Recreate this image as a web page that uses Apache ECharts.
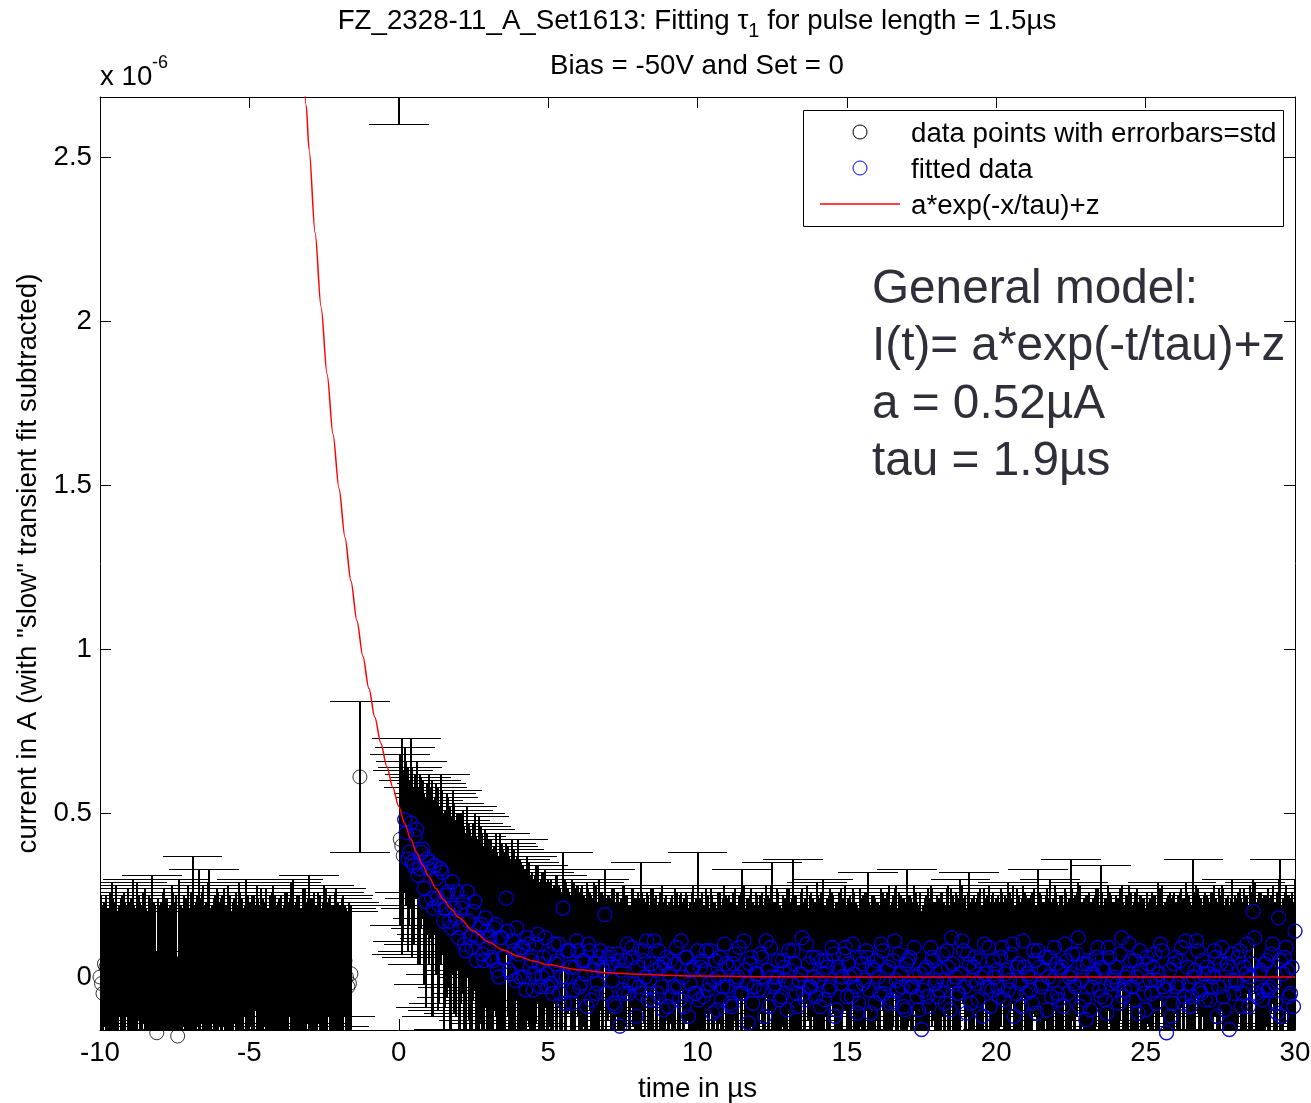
<!DOCTYPE html>
<html><head><meta charset="utf-8">
<script src="https://cdn.jsdelivr.net/npm/echarts@6/dist/echarts.min.js"></script>
<style>html,body{margin:0;padding:0;background:#fff;overflow:hidden}#c{width:1311px;height:1103px}</style>
</head><body><div id="c"></div>
<script>
// Sampling of the measurement: every 0.05 µs from -10 µs to 30 µs.
// "current"/"stdDev" hold the samples at t = -10.0, -9.9, ... 30.0 (rows = x.0 ... x.9 µs),
// "currentHalf"/"stdDevHalf" hold the samples in between, t = -9.95, -9.85, ... 29.95.
const sampleStart = -10, sampleStep = 0.1, sampleCount = 401;
const halfStart = -9.95, halfCount = 400;

// measured current in µA (axis is x 10^-6 A)
const current = [
 0,-0.05,0.03,-0.02,0.04,0.01,-0.03,0.02,-0.01,0.05,
 -0.04,0.02,0,0.06,-0.03,0.01,-0.06,0.03,-0.02,-0.17,
 0.02,-0.01,0.04,-0.05,0,0.03,-0.18,-0.02,0.05,0.01,
 -0.03,0.02,-0.04,0,0.06,-0.01,0.03,-0.05,0.02,-0.02,
 0.04,0,-0.03,0.01,-0.06,0.05,-0.01,0.02,-0.04,0.03,
 0,-0.02,0.06,-0.03,0.01,0.04,-0.05,0.02,-0.01,0.03,
 -0.04,0.01,0.05,-0.02,0,-0.06,0.03,-0.01,0.04,-0.03,
 0.02,0,-0.05,0.06,-0.02,0.01,-0.03,0.04,0,-0.04,
 0.03,-0.01,0.05,-0.03,0.01,null,null,0.61,null,null,
 null,null,null,null,null,null,null,null,null,null,
 4.0,0.40,0.48,0.36,0.47,0.34,0.45,0.33,0.39,0.23,
 0.33,0.24,0.34,0.24,0.33,0.17,0.25,0.17,0.29,0.18,
 0.12,0.21,0.10,0.26,0.12,0.20,0.05,0.15,0.07,0.18,
 0.09,0.06,0.15,0.02,0.12,0.06,0.24,0.02,0.11,-0.01,
 0.07,0.09,0,0.12,0.03,-0.04,0.10,0.04,0,0.12,
 -0.03,-0.02,0.10,0.05,-0.05,0.21,0,0.08,-0.08,0.03,
 0.08,-0.02,0.05,-0.09,0.08,0.02,-0.05,0.06,0.03,0.19,
 0.06,0.04,-0.08,0.07,-0.15,-0.04,0.05,-0.05,0.09,-0.02,
 0.03,-0.05,0.05,0.11,-0.01,-0.07,0.02,0.08,-0.03,0.04,
 -0.09,0.05,-0.03,0.09,-0.07,0,0.06,-0.12,0.02,-0.05,
 0.08,0.03,-0.06,0.08,-0.02,-0.11,0.05,0,-0.07,0.10,
 -0.03,-0.08,0.04,-0.01,0.09,-0.05,0.02,-0.14,0.06,-0.03,
 0.01,0.07,-0.04,0.11,-0.09,0,-0.02,0.05,-0.06,0.03,
 -0.10,0.02,0.08,-0.05,-0.01,0.12,-0.07,0.04,-0.03,0,
 0.06,-0.09,0.01,0.05,-0.04,0.09,-0.12,0.03,-0.02,0.07,
 -0.06,0,0.10,-0.03,-0.08,0.04,-0.01,0.06,-0.11,0.02,
 0.05,-0.05,0.08,-0.02,0.03,-0.07,0.11,-0.04,0.01,-0.09,
 0.04,0.06,-0.03,0,-0.10,-0.16,0.02,-0.06,0.09,0.05,
 -0.01,-0.04,0.07,-0.08,0.03,0.12,-0.02,-0.05,0.01,0.08,
 -0.11,0.04,-0.01,0.06,-0.07,0,0.10,-0.03,-0.09,0.05,
 0.02,-0.06,0.09,0.01,-0.04,0.07,-0.12,0.03,-0.02,0.11,
 -0.05,0,-0.08,0.05,0.08,-0.03,0.02,-0.10,0.06,-0.01,
 0.04,-0.07,0.03,0.10,-0.05,0.01,-0.02,0.07,-0.09,0.04,
 -0.13,0.05,-0.03,0,0.09,-0.06,0.02,-0.11,0.06,-0.01,
 0.03,-0.08,0.12,-0.04,0.01,0.05,-0.07,0,0.08,-0.02,
 -0.10,0.04,-0.05,0.07,-0.01,0.10,-0.03,-0.17,0.02,-0.08,
 0.06,-0.02,0.09,-0.06,0.03,-0.09,0,0.11,-0.04,0.05,
 -0.07,0.01,-0.03,0.08,-0.12,0.04,-0.06,0.02,-0.16,0.07,
 -0.01,0.06,-0.09,0.03,0.10,0,0.20,-0.05,0.01,-0.07,
 0.04,-0.04,0.07,-0.02,-0.11,0.05,0.01,0.09,-0.06,0.03,
 0.14
];

// standard deviation (errorbar half length) in µA
const stdDev = [
 0.24,0.27,0.22,0.23,0.25,0.22,0.23,0.22,0.27,0.17,
 0.27,0.28,0.21,0.19,0.25,0.26,0.26,0.21,0.25,0.25,
 0.20,0.27,0.20,0.26,0.28,0.20,0.24,0.24,0.20,0.23,
 0.24,0.35,0.27,0.33,0.20,0.23,0.26,0.26,0.22,0.29,
 0.19,0.25,0.25,0.27,0.26,0.19,0.23,0.24,0.25,0.27,
 0.23,0.27,0.16,0.27,0.26,0.19,0.26,0.23,0.29,0.19,
 0.28,0.20,0.21,0.25,0.29,0.28,0.22,0.22,0.23,0.26,
 0.29,0.24,0.27,0.20,0.23,0.27,0.26,0.21,0.22,0.31,
 0.18,0.25,0.17,0.23,0.21,null,null,0.23,null,null,
 null,null,null,null,null,null,null,null,null,null,
 1.40,0.33,0.22,0.28,0.26,0.24,0.21,0.29,0.21,0.32,
 0.29,0.36,0.21,0.34,0.29,0.33,0.31,0.35,0.28,0.30,
 0.38,0.29,0.36,0.26,0.33,0.27,0.38,0.34,0.37,0.27,
 0.33,0.36,0.25,0.36,0.32,0.33,0.17,0.35,0.31,0.37,
 0.35,0.26,0.33,0.25,0.28,0.34,0.24,0.25,0.32,0.21,
 0.33,0.32,0.18,0.26,0.32,0.17,0.29,0.18,0.38,0.24,
 0.20,0.29,0.20,0.38,0.18,0.22,0.33,0.24,0.23,0.14,
 0.19,0.20,0.35,0.19,0.38,0.32,0.20,0.27,0.18,0.26,
 0.23,0.40,0.19,0.15,0.23,0.34,0.23,0.15,0.31,0.20,
 0.31,0.19,0.25,0.17,0.32,0.23,0.20,0.33,0.24,0.28,
 0.30,0.21,0.28,0.19,0.23,0.36,0.18,0.26,0.29,0.18,
 0.27,0.31,0.22,0.23,0.16,0.38,0.19,0.38,0.21,0.25,
 0.24,0.18,0.26,0.17,0.33,0.35,0.25,0.21,0.27,0.21,
 0.37,0.21,0.28,0.30,0.23,0.15,0.31,0.17,0.29,0.23,
 0.23,0.33,0.29,0.17,0.29,0.17,0.33,0.20,0.29,0.17,
 0.28,0.25,0.17,0.26,0.29,0.20,0.27,0.26,0.33,0.23,
 0.18,0.27,0.18,0.26,0.25,0.30,0.16,0.25,0.24,0.33,
 0.29,0.19,0.26,0.26,0.32,0.36,0.22,0.33,0.19,0.18,
 0.26,0.28,0.19,0.30,0.25,0.15,0.25,0.30,0.29,0.16,
 0.32,0.28,0.25,0.17,0.33,0.22,0.17,0.28,0.32,0.21,
 0.22,0.29,0.17,0.24,0.33,0.17,0.34,0.24,0.25,0.17,
 0.30,0.24,0.34,0.17,0.25,0.28,0.21,0.37,0.24,0.25,
 0.22,0.29,0.22,0.17,0.28,0.35,0.26,0.19,0.37,0.19,
 0.38,0.21,0.26,0.25,0.18,0.40,0.20,0.35,0.20,0.24,
 0.22,0.32,0.16,0.26,0.24,0.21,0.30,0.27,0.17,0.26,
 0.31,0.19,0.31,0.18,0.30,0.17,0.25,0.41,0.24,0.33,
 0.17,0.27,0.18,0.30,0.23,0.32,0.36,0.17,0.29,0.17,
 0.33,0.23,0.29,0.20,0.35,0.21,0.33,0.22,0.38,0.23,
 0.26,0.20,0.33,0.24,0.15,0.28,0.10,0.28,0.25,0.31,
 0.21,0.31,0.18,0.25,0.37,0.31,0.23,0.19,0.31,0.23,
 0.16
];

// in-between samples, t = x.05 ... x.95 µs per row
const currentHalf = [
 -0.02,0.04,-0.06,0.01,0.03,-0.04,0.05,-0.01,0.02,-0.03,
 0.01,-0.05,0.04,-0.02,0.06,0,-0.03,0.02,-0.06,0.03,
 -0.01,0.05,-0.03,0.02,-0.05,0.01,0.04,-0.04,0,0.06,
 0.02,-0.03,0.05,-0.06,0.01,0.03,-0.02,0.04,-0.05,0,
 -0.02,0.06,-0.04,0.02,0,-0.05,0.03,-0.01,0.05,-0.03,
 0.04,-0.02,0.01,-0.06,0.03,0,-0.04,0.05,-0.02,0.01,
 0.02,-0.05,0.03,0.06,-0.03,0.01,-0.01,-0.04,0.03,0.05,
 -0.02,0.04,0.01,-0.05,0.03,-0.03,0.06,0,-0.04,0.02,
 -0.03,0.04,0,-0.02,null,null,null,null,null,null,
 null,null,null,null,null,null,null,null,null,null,
 0.42,0.37,0.44,0.38,0.35,0.43,0.31,0.38,0.27,0.36,
 0.35,0.21,0.30,0.22,0.32,0.21,0.26,0.15,0.21,0.26,
 0.15,0.23,0.08,0.17,0.09,0.23,0.12,0.16,0.05,0.14,
 0.12,0.05,0.16,0,0.12,0.06,0.14,0.01,0.08,0.15,
 0,0.09,-0.04,0.10,0.05,0.01,0.13,-0.03,0.06,0.01,
 0.07,-0.05,0.04,0.10,0,-0.08,0.08,0.03,-0.04,0.11,
 -0.03,0.05,0.01,0.10,-0.07,0.04,-0.02,0.08,0.02,-0.05,
 0.07,-0.01,-0.09,0.05,0.02,-0.05,0.10,-0.02,0.06,-0.12,
 -0.03,0.08,0,-0.07,0.04,0.11,-0.05,0.03,-0.10,0.06,
 0.01,-0.06,0.04,-0.03,0.11,-0.09,0.06,-0.02,0.03,-0.05,
 -0.07,0.05,0.02,-0.04,0.08,-0.01,-0.10,0.06,-0.03,0.04,
 0.03,-0.09,0.07,0,-0.05,0.11,-0.02,0.04,-0.08,0.01,
 -0.04,0.06,-0.12,0.02,0.09,-0.03,0,-0.07,0.05,-0.01,
 0.08,-0.02,0.04,-0.09,0.01,-0.05,0.10,-0.03,0.06,-0.06,
 -0.01,0.05,-0.07,0.03,-0.03,0.07,-0.10,0.02,0,0.09,
 0.04,-0.06,0.01,-0.11,0.06,-0.02,0.08,-0.04,0.03,-0.08,
 0,0.10,-0.05,0.02,-0.08,0.05,-0.01,0.07,-0.03,-0.10,
 0.05,-0.03,0.09,-0.06,0.01,-0.04,0.03,-0.09,0.06,-0.02,
 -0.06,0.02,-0.01,0.08,-0.10,0.04,0,-0.05,0.11,-0.03,
 0.07,-0.08,0.03,-0.02,0.05,-0.12,0.01,0.09,-0.04,0,
 -0.03,0.06,-0.07,0.02,-0.01,0.10,-0.05,0.04,-0.09,0.03,
 0.01,-0.04,0.08,-0.11,0.03,-0.02,0.06,0,-0.06,0.09,
 -0.05,0.02,-0.09,0.05,0,0.07,-0.03,0.12,-0.01,-0.07,
 0.04,-0.10,0.01,0.06,-0.04,0.03,-0.07,0.09,-0.02,0,
 -0.02,0.07,-0.06,0,0.10,-0.03,0.05,-0.11,0.02,-0.05,
 0.06,-0.01,0.03,-0.08,0.01,0.08,-0.04,-0.02,-0.12,0.04,
 -0.03,0.05,-0.08,0.11,-0.02,-0.06,0.02,0.08,-0.05,0.01,
 0.03,-0.07,0,0.06,-0.03,0.09,-0.10,0.04,-0.01,-0.05,
 -0.02,0.08,-0.05,0.01,-0.09,0.04,0.12,-0.06,0.02,-0.04,
 0.05,-0.03,0.10,-0.08,0.18,-0.12,0.06,0.02,-0.05,-0.09
];

const stdDevHalf = [
 0.27,0.19,0.27,0.25,0.21,0.32,0.17,0.26,0.21,0.30,
 0.23,0.27,0.25,0.25,0.20,0.21,0.28,0.29,0.28,0.21,
 0.24,0.22,0.27,0.20,0.31,0.24,0.26,0.25,0.24,0.22,
 0.24,0.25,0.20,0.30,0.27,0.20,0.35,0.18,0.30,0.26,
 0.26,0.21,0.26,0.23,0.23,0.31,0.26,0.25,0.17,0.28,
 0.19,0.27,0.27,0.28,0.21,0.27,0.25,0.21,0.27,0.22,
 0.23,0.27,0.23,0.18,0.33,0.22,0.26,0.25,0.24,0.19,
 0.26,0.22,0.21,0.30,0.20,0.30,0.18,0.22,0.30,0.21,
 0.25,0.21,0.21,0.25,null,null,null,null,null,null,
 null,null,null,null,null,null,null,null,null,null,
 0.26,0.26,0.22,0.22,0.29,0.19,0.27,0.23,0.29,0.23,
 0.23,0.33,0.29,0.30,0.25,0.30,0.29,0.34,0.32,0.24,
 0.33,0.28,0.36,0.30,0.34,0.27,0.30,0.30,0.35,0.30,
 0.30,0.34,0.28,0.37,0.29,0.32,0.26,0.35,0.31,0.22,
 0.36,0.25,0.37,0.25,0.27,0.30,0.21,0.33,0.26,0.28,
 0.22,0.32,0.27,0.18,0.26,0.38,0.19,0.22,0.33,0.17,
 0.29,0.23,0.23,0.17,0.32,0.25,0.25,0.18,0.23,0.29,
 0.18,0.28,0.32,0.21,0.22,0.33,0.15,0.24,0.21,0.36,
 0.27,0.18,0.23,0.32,0.23,0.13,0.27,0.23,0.33,0.19,
 0.22,0.31,0.23,0.25,0.15,0.33,0.19,0.25,0.25,0.29,
 0.31,0.21,0.20,0.29,0.19,0.24,0.31,0.20,0.27,0.21,
 0.22,0.32,0.20,0.22,0.31,0.17,0.26,0.21,0.31,0.25,
 0.26,0.20,0.36,0.23,0.19,0.26,0.27,0.29,0.20,0.25,
 0.19,0.26,0.21,0.31,0.25,0.28,0.18,0.28,0.18,0.29,
 0.26,0.21,0.29,0.21,0.30,0.18,0.33,0.24,0.24,0.19,
 0.20,0.29,0.25,0.33,0.21,0.27,0.18,0.27,0.22,0.32,
 0.23,0.17,0.29,0.24,0.30,0.20,0.29,0.19,0.27,0.33,
 0.20,0.27,0.19,0.29,0.25,0.26,0.22,0.33,0.21,0.25,
 0.30,0.24,0.24,0.19,0.32,0.21,0.26,0.29,0.17,0.28,
 0.19,0.31,0.22,0.26,0.22,0.34,0.23,0.19,0.29,0.23,
 0.28,0.21,0.30,0.22,0.27,0.18,0.27,0.21,0.33,0.23,
 0.23,0.29,0.19,0.33,0.23,0.25,0.19,0.24,0.29,0.19,
 0.28,0.23,0.31,0.21,0.24,0.20,0.28,0.17,0.24,0.31,
 0.21,0.33,0.23,0.21,0.26,0.23,0.31,0.19,0.27,0.23,
 0.26,0.20,0.29,0.25,0.18,0.25,0.21,0.34,0.23,0.29,
 0.20,0.25,0.22,0.30,0.26,0.20,0.27,0.27,0.36,0.22,
 0.26,0.21,0.32,0.18,0.27,0.28,0.24,0.19,0.29,0.24,
 0.22,0.30,0.26,0.18,0.30,0.19,0.32,0.21,0.25,0.28,
 0.26,0.19,0.28,0.24,0.31,0.22,0.17,0.30,0.24,0.29,
 0.20,0.27,0.18,0.31,0.12,0.34,0.20,0.23,0.29,0.32
];

// samples from this time on were used for the fit (blue circles)
const fitStartTime = 0.2;

// fitted curve a*exp(-x/tau)+z (µs, µA)
const fitX = [-3.2,-3.1,-3.0,-2.8,-2.6,-2.4,-2.2,-2.0,-1.8,-1.6,-1.4,-1.2,-1.0,-0.8,-0.6,-0.4,-0.2,0,0.2,0.4,0.6,0.8,1.0,1.25,1.5,1.75,2.0,2.5,3.0,3.5,4.0,4.5,5,6,7,8,9,10,12,15,20,30];
const fitY = [2.802,2.658,2.522,2.270,2.043,1.839,1.655,1.490,1.341,1.207,1.086,0.978,0.880,0.792,0.713,0.642,0.578,0.520,0.468,0.421,0.379,0.341,0.307,0.269,0.236,0.207,0.182,0.140,0.107,0.082,0.063,0.049,0.037,0.022,0.013,0.008,0.005,0.003,0.001,0,0,0];

const yTicks = [0, 0.5, 1, 1.5, 2, 2.5];

const FONT = "'Liberation Sans', Arial, Helvetica, sans-serif";
const FS = 27.7;
const CAP_HALF = 1.0; // errorbar cap half width in µs (drawing style)

const samples = [];
for (let i = 0; i < sampleCount; i++)
  samples.push([Math.round((sampleStart + i * sampleStep) * 100) / 100, current[i], stdDev[i]]);
for (let j = 0; j < halfCount; j++)
  samples.push([Math.round((halfStart + j * sampleStep) * 100) / 100, currentHalf[j], stdDevHalf[j]]);
samples.sort((a, b) => a[0] - b[0]);
const errData = [], blackPts = [], bluePts = [];
samples.forEach(([t, y, s]) => {
  if (y == null) return;
  errData.push([t, y, s]);
  blackPts.push([t, y]);
  if (t >= fitStartTime) bluePts.push([t, y]);
});
const fitLine = fitX.map((x, i) => [x, fitY[i]]);

// errorbar: pixel-snapped stem plus caps (crisp like the original raster)
function renderErr(params, api) {
  const x = api.value(0), y = api.value(1), s = api.value(2);
  const top = api.coord([x, y + s]), bot = api.coord([x, y - s]);
  const l = Math.round(api.coord([x - CAP_HALF, y])[0]), r = Math.round(api.coord([x + CAP_HALF, y])[0]);
  const sx = Math.round(top[0]) - 1;
  const ty = Math.round(top[1]) + 0.5, by = Math.round(bot[1]) + 0.5;
  return {
    type: 'group',
    children: [
      {type: 'rect', shape: {x: sx, y: Math.round(top[1]), width: 2, height: Math.round(bot[1]) - Math.round(top[1]) + 1}, style: {fill: '#000'}},
      {type: 'line', shape: {x1: l, y1: ty, x2: r, y2: ty}, style: {stroke: '#000', lineWidth: 1}},
      {type: 'line', shape: {x1: l, y1: by, x2: r, y2: by}, style: {stroke: '#000', lineWidth: 1}}
    ]
  };
}

const lineStyle = {color: '#000', width: 1};
const chart = echarts.init(document.getElementById('c'), null, {renderer: 'canvas'});
chart.setOption({
  animation: false,
  backgroundColor: '#fff',
  grid: {left: 100, right: 16, top: 97, bottom: 73, containLabel: false, outerBoundsMode: 'none'},
  xAxis: [
    {type: 'value', min: -10, max: 30, interval: 5, position: 'bottom',
     axisLine: {show: true, onZero: false, lineStyle},
     axisTick: {show: true, inside: true, length: 11, lineStyle},
     axisLabel: {fontSize: FS, color: '#000', fontFamily: FONT, margin: 9},
     splitLine: {show: false},
     name: 'time in µs', nameLocation: 'middle', nameGap: 45,
     nameTextStyle: {fontSize: FS, color: '#000', fontFamily: FONT}},
    {type: 'value', min: -10, max: 30, interval: 5, position: 'top',
     axisLine: {show: true, onZero: false, lineStyle},
     axisTick: {show: true, inside: true, length: 11, lineStyle},
     axisLabel: {show: false}, splitLine: {show: false}}
  ],
  yAxis: [
    {type: 'value', min: -0.1616, max: 2.683, position: 'left',
     axisLine: {show: true, onZero: false, lineStyle},
     axisTick: {show: true, inside: true, length: 11, lineStyle, customValues: yTicks},
     axisLabel: {fontSize: FS, color: '#000', fontFamily: FONT, margin: 8, customValues: yTicks, formatter: v => String(v)},
     splitLine: {show: false},
     name: 'current in A (with "slow" transient fit subtracted)', nameLocation: 'middle', nameRotate: 90, nameGap: 56,
     nameTextStyle: {fontSize: FS, color: '#000', fontFamily: FONT}},
    {type: 'value', min: -0.1616, max: 2.683, position: 'right',
     axisLine: {show: true, onZero: false, lineStyle},
     axisTick: {show: true, inside: true, length: 11, lineStyle, customValues: yTicks},
     axisLabel: {show: false}, splitLine: {show: false}}
  ],
  series: [
    {type: 'custom', name: 'errorbars', renderItem: renderErr, data: errData, encode: {x: 0, y: 1},
     clip: true, z: 1, silent: true},
    {type: 'scatter', name: 'data points with errorbars=std', data: blackPts, symbol: 'circle', symbolSize: 14,
     itemStyle: {color: 'rgba(0,0,0,0)', borderColor: '#000', borderWidth: 1}, clip: false, z: 2, silent: true},
    {type: 'scatter', name: 'fitted data', data: bluePts, symbol: 'circle', symbolSize: 14,
     itemStyle: {color: 'rgba(0,0,0,0)', borderColor: '#0000ff', borderWidth: 1.3}, clip: false, z: 3, silent: true},
    {type: 'line', name: 'a*exp(-x/tau)+z', data: fitLine, showSymbol: false, smooth: 0.3, smoothMonotone: 'x',
     lineStyle: {color: '#ff0000', width: 1.5}, itemStyle: {color: '#ff0000'}, clip: true, z: 4, silent: true}
  ],
  graphic: [
    {type: 'text', z: 100, x: 697, y: 7, style: {
      text: '{m|FZ_2328-11_A_Set1613: Fitting τ}{s|1}{m| for pulse length = 1.5µs}',
      rich: {
        m: {fontSize: FS, fontFamily: FONT, lineHeight: 27, verticalAlign: 'top', fill: '#000', color: '#000'},
        s: {fontSize: 20, fontFamily: FONT, lineHeight: 34, verticalAlign: 'bottom', fill: '#000', color: '#000'}
      },
      align: 'center', textAlign: 'center', verticalAlign: 'top', textVerticalAlign: 'top'}},
    {type: 'text', z: 100, x: 697, y: 66, style: {text: 'Bias = -50V and Set = 0', font: FS + 'px ' + FONT, fill: '#000',
      align: 'center', textAlign: 'center', verticalAlign: 'middle', textVerticalAlign: 'middle'}},
    {type: 'text', z: 100, x: 100, y: 77, style: {text: 'x 10', font: FS + 'px ' + FONT, fill: '#000',
      align: 'left', textAlign: 'left', verticalAlign: 'middle', textVerticalAlign: 'middle'}},
    {type: 'text', z: 100, x: 152, y: 63, style: {text: '-6', font: '18px ' + FONT, fill: '#000',
      align: 'left', textAlign: 'left', verticalAlign: 'middle', textVerticalAlign: 'middle'}},
    {type: 'text', z: 100, x: 872, y: 261, style: {
      text: 'General model:\nI(t)= a*exp(-t/tau)+z\na = 0.52µA\ntau = 1.9µs',
      font: '47.7px ' + FONT, lineHeight: 57.5, fill: '#2f2f3a',
      align: 'left', textAlign: 'left', verticalAlign: 'top', textVerticalAlign: 'top'}},
    {type: 'rect', z: 100, shape: {x: 803.5, y: 110.5, width: 480, height: 116}, style: {fill: '#fff', stroke: '#000', lineWidth: 1}},
    {type: 'circle', z: 101, shape: {cx: 860, cy: 132, r: 7}, style: {fill: 'none', stroke: '#000', lineWidth: 1}},
    {type: 'circle', z: 101, shape: {cx: 860, cy: 168, r: 7}, style: {fill: 'none', stroke: '#0000ff', lineWidth: 1}},
    {type: 'line', z: 101, shape: {x1: 820, y1: 204, x2: 900, y2: 204}, style: {stroke: '#ff0000', lineWidth: 1.5}},
    {type: 'text', z: 101, x: 911, y: 134, style: {text: 'data points with errorbars=std', font: FS + 'px ' + FONT, fill: '#000',
      align: 'left', textAlign: 'left', verticalAlign: 'middle', textVerticalAlign: 'middle'}},
    {type: 'text', z: 101, x: 911, y: 170, style: {text: 'fitted data', font: FS + 'px ' + FONT, fill: '#000',
      align: 'left', textAlign: 'left', verticalAlign: 'middle', textVerticalAlign: 'middle'}},
    {type: 'text', z: 101, x: 911, y: 206, style: {text: 'a*exp(-x/tau)+z', font: FS + 'px ' + FONT, fill: '#000',
      align: 'left', textAlign: 'left', verticalAlign: 'middle', textVerticalAlign: 'middle'}}
  ]
});
</script>
</body></html>
